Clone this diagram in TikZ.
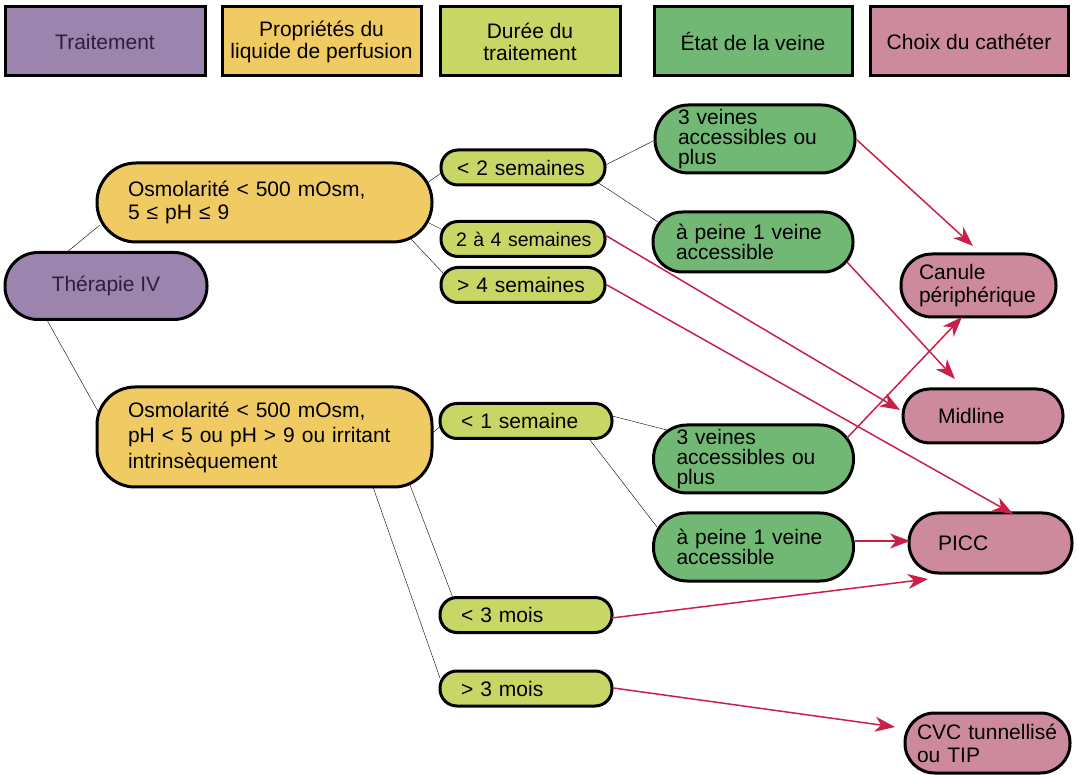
\documentclass[tikz,border=0pt]{standalone}
\usepackage{fontspec}
\setmainfont{Liberation Sans}
\usetikzlibrary{arrows.meta,backgrounds,calc}
\definecolor{purp}{RGB}{155,133,175}
\definecolor{purptxt}{RGB}{45,30,62}
\definecolor{orng}{RGB}{240,202,98}
\definecolor{lime}{RGB}{200,214,101}
\definecolor{grn}{RGB}{114,184,117}
\definecolor{pink}{RGB}{205,138,157}
\definecolor{arrred}{RGB}{200,32,72}
\hyphenpenalty=10000
\tikzset{
  hdr/.style={draw, line width=3pt, minimum height=69pt, inner sep=0pt, align=center, font=\fontsize{21}{22}\selectfont},
  pill/.style={draw, line width=3pt, inner ysep=0pt, align=left},
  dur/.style={pill, fill=lime, minimum height=35pt, rounded corners=17pt, inner xsep=21pt, text width=130pt},
  vein/.style={pill, fill=grn, inner xsep=23pt, text width=154pt, font=\fontsize{21}{20}\selectfont},
  cath/.style={pill, fill=pink}
}
\begin{document}
\begin{tikzpicture}[x=1pt, y=-1pt, font=\fontsize{21}{23}\selectfont]
      \useasboundingbox (0,0) rectangle (1077,775);
      \node[hdr, fill=purp, text=purptxt, minimum width=200pt] (hTrait) at (105,41.5) {Traitement};
      \node[hdr, fill=orng, minimum width=199pt] (hProp) at (321.5,41.5) {Propriétés du\\liquide de perfusion};
      \node[hdr, fill=lime, minimum width=180pt] (hDuree) at (530,41.5) {Durée du\\traitement};
      \node[hdr, fill=grn, minimum width=198pt] (hEtat) at (753,41.5) {État de la veine};
      \node[hdr, fill=pink, minimum width=198pt] (hChoix) at (969,41.5) {Choix du cathéter};
      \node[pill, fill=purp, text=purptxt, align=center, minimum width=202pt, minimum height=67pt, rounded corners=33pt] (ther) at (106,286) {Thérapie IV};
      \node[pill, fill=orng, minimum height=79pt, rounded corners=39pt, inner xsep=31pt, text width=273pt] (osm1) at (264.5,202.5) {Osmolarité < 500 mOsm,\\5 ≤ pH ≤ 9};
      \node[pill, fill=orng, minimum height=100pt, rounded corners=38pt, inner xsep=31pt, text width=273pt, font=\fontsize{21}{25.5}\selectfont] (osm2) at (264.5,437) {Osmolarité < 500 mOsm,\\pH < 5 ou pH > 9 ou irritant\\intrinsèquement};
      \node[dur, inner xsep=16pt, text width=132pt] (d2) at (523,167.5) {< 2 semaines};
      \node[dur, inner xsep=15pt, text width=134pt, font=\fontsize{19.5}{23}\selectfont] (d24) at (523,239) {2~à~4~semaines};
      \node[dur, inner xsep=16pt, text width=132pt] (d4) at (523,285) {> 4 semaines};
      \node[dur] (d1) at (526,421) {< 1 semaine};
      \node[dur] (m3l) at (526,615) {< 3 mois};
      \node[dur] (m3g) at (526,688.5) {> 3 mois};
      \node[vein, minimum height=68pt, rounded corners=33.5pt] (v3a) at (755,139) {3 veines\\accessibles ou\\plus};
      \node[vein, minimum height=60pt, rounded corners=29.5pt] (v1a) at (753,242) {à peine 1 veine\\accessible};
      \node[vein, minimum height=68pt, rounded corners=33.5pt] (v3b) at (753.5,459) {3 veines\\accessibles ou\\plus};
      \node[vein, minimum height=68pt, rounded corners=33.5pt] (v1b) at (753.5,547) {à peine 1 veine\\accessible};
      \node[cath, minimum height=63pt, rounded corners=31pt, inner xsep=18pt, text width=119pt] (canule) at (978.5,285.5) {Canule\\périphérique};
      \node[cath, minimum height=54pt, rounded corners=26.5pt, inner xsep=35pt, text width=90pt] (midline) at (983,416) {Midline};
      \node[cath, minimum height=60pt, rounded corners=29.5pt, inner xsep=29pt, text width=105pt] (picc) at (990.5,543) {PICC};
      \node[cath, minimum height=60pt, rounded corners=29.5pt, inner xsep=12pt, text width=141pt] (cvc) at (987.5,743) {CVC tunnellisé\\ou TIP};
      \begin{scope}[on background layer, line width=1.5pt]
        \draw ($(ther)+(-39,-34)$) -- ($(osm1)+(-164.5,22.5)$);
        \draw ($(ther)+(-59,34)$) -- ($(osm2)+(-164.5,-22)$);
        \draw ($(osm1)+(162.5,-19.5)$) -- ($(d2)+(-80.5,4.5)$);
        \draw ($(osm1)+(162.5,19.5)$) -- ($(d24)+(-80,-9)$);
        \draw ($(osm1)+(145.5,35.5)$) -- ($(d4)+(-80,-12)$);
        \draw ($(d2)+(82.5,-2.5)$) -- ($(v3a)+(-100,1)$);
        \draw ($(d2)+(75.5,15.5)$) -- ($(v1a)+(-95,-20)$);
        \draw ($(osm2)+(165.5,-2)$) -- ($(d1)+(-84,4)$);
        \draw ($(osm2)+(108.5,50)$) -- ($(m3g)+(-86,-10.5)$);
        \draw ($(osm2)+(145.5,48)$) -- ($(m3l)+(-73,-17)$);
        \draw ($(d1)+(86,-5)$) -- ($(v3b)+(-86.5,-29)$);
        \draw ($(d1)+(64,19)$) -- ($(v1b)+(-96.5,-20)$);
      \end{scope}
      \begin{scope}[color=arrred, line width=1.5pt, -{Stealth[length=20pt, width=15pt, inset=6pt]}]
        \draw ($(v3a)+(102,1)$) -- ($(canule)+(-5.5,-39.5)$);
        \draw ($(v1a)+(94,20)$) -- ($(midline)+(-28,-37)$);
        \draw ($(d24)+(82,-4)$) -- ($(midline)+(-83,-6)$);
        \draw ($(v3b)+(93.5,-21)$) -- ($(canule)+(-16.5,31.5)$);
        \draw ($(d4)+(84,0)$) -- ($(picc)+(22.5,-29)$);
        \draw ($(v1b)+(101.5,-6)$) -- ($(picc)+(-80.5,-2)$);
        \draw ($(m3l)+(85.5,3)$) -- ($(picc)+(-62.5,36)$);
        \draw ($(m3g)+(87.5,-0.5)$) -- ($(cvc)+(-92.5,-16)$);
      \end{scope}
    \end{tikzpicture}
\end{document}
